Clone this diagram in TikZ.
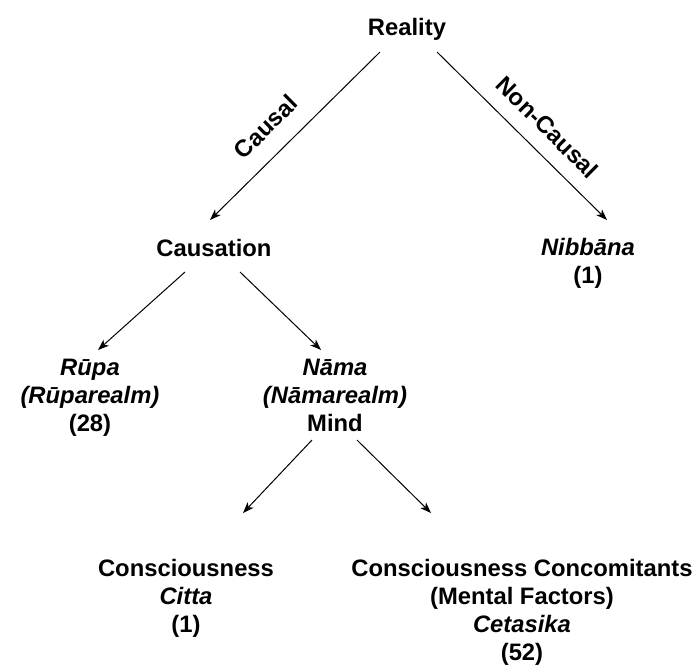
\documentclass[tikz,border=0pt]{standalone}
\usepackage{fontspec}
\setmainfont{Liberation Sans}
\usetikzlibrary{arrows.meta}
\begin{document}
\begin{tikzpicture}[x=1pt,y=-1pt,
		term/.style={inner sep=0pt, align=center, font=\fontsize{23.8}{28}\selectfont\bfseries},
		branch/.style={draw, line width=1pt, -{Stealth[length=11pt,width=8pt,inset=3pt]}},
		edgelabel/.style={inner sep=0pt, sloped, font=\fontsize{23.8}{28}\selectfont\bfseries}]
			\useasboundingbox (0,0) rectangle (694,665);
			
			%top level
			\node[term, anchor=base] (reality) at (407, 35){Reality};
			\node[term, anchor=base] (causation) at (214, 256){Causation};
			\node[term, anchor=north] (nibbana) at (588, 238){\itshape Nibbāna\\(1)};
			
			\draw[branch] ([shift={(-27,17)}]reality.base) -- node[edgelabel, pos=0.56, above=18pt]{Causal} ([shift={(-4,-36)}]causation.base);
			\draw[branch] ([shift={(30,17)}]reality.base) -- node[edgelabel, pos=0.55, above=15pt]{Non-Causal} ([shift={(19,-18)}]nibbana.north);
			
			%causation
			\node[term, anchor=north] (rupa) at (90, 359){\itshape Rūpa\\\itshape(Rūparealm)\\(28)};
			\node[term, anchor=north] (nama) at (335, 359){\itshape Nāma\\\itshape(Nāmarealm)\\Mind};
			
			\draw[branch] ([shift={(-29,16)}]causation.base) -- ([shift={(8,-9)}]rupa.north);
			\draw[branch] ([shift={(26,16)}]causation.base) -- ([shift={(-14,-9)}]nama.north);
			
			%mind
			\node[term, anchor=north] (citta) at (186, 559){Consciousness\\\itshape Citta\\(1)};
			\node[term, anchor=north] (cetasika) at (522, 559){Consciousness Concomitants\\(Mental Factors)\\\itshape Cetasika\\(52)};
			
			\draw[branch] ([shift={(-23,8)}]nama.south) -- ([shift={(57,-46)}]citta.north);
			\draw[branch] ([shift={(22,8)}]nama.south) -- ([shift={(-91,-46)}]cetasika.north);
		\end{tikzpicture}
\end{document}
